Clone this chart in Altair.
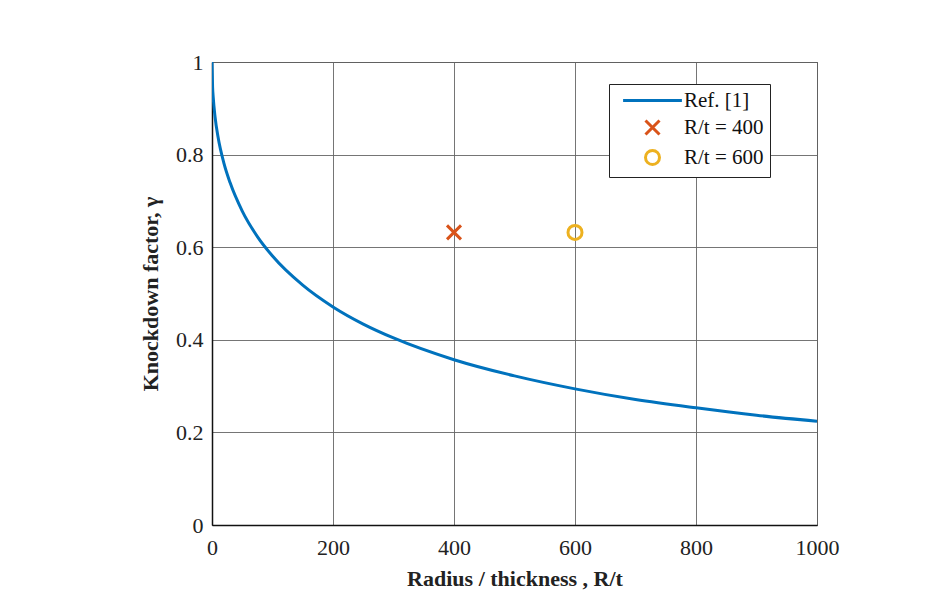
import altair as alt
import pandas as pd

# Curve (Ref. [1])
rt_values = [0, 1, 2, 5, 10, 20, 30, 50, 75, 100, 150, 200, 250, 300, 400, 500, 600, 700, 800, 900, 1000]
gamma_values = [1.0, 0.945, 0.924, 0.882, 0.838, 0.780, 0.739, 0.678, 0.623, 0.581, 0.518, 0.471,
                0.434, 0.404, 0.357, 0.322, 0.294, 0.271, 0.253, 0.237, 0.224]

# Test points
point_labels = ["R/t = 400", "R/t = 600"]
point_rt = [400, 600]
point_gamma = [0.632, 0.632]

series_names = ["Ref. [1]", "R/t = 400", "R/t = 600"]
series_colors = ["#0072BD", "#D95319", "#EDB120"]
series_shapes = ["M-4.2,0L4.2,0", "M-1,-1L1,1M-1,1L1,-1", "M-1,0A1,1,0,1,1,1,0A1,1,0,1,1,-1,0"]

curve_df = pd.DataFrame({"rt": rt_values, "gamma": gamma_values, "series": [series_names[0]] * len(rt_values)})
pts_df = pd.DataFrame({"rt": point_rt, "gamma": point_gamma, "series": point_labels})

FONT = "Liberation Serif"

x_enc = alt.X("rt:Q", scale=alt.Scale(domain=[0, 1000], nice=False),
              axis=alt.Axis(title="Radius / thickness , R/t", values=[0, 200, 400, 600, 800, 1000],
                            format="d", labelFlush=False, labelPadding=12, titlePadding=10))
y_enc = alt.Y("gamma:Q", scale=alt.Scale(domain=[0, 1], nice=False),
              axis=alt.Axis(title="Knockdown factor, γ", values=[0, 0.2, 0.4, 0.6, 0.8, 1.0],
                            format="~g", labelFlush=False, labelPadding=9, titlePadding=13))

color_scale = alt.Scale(domain=series_names, range=series_colors)
shape_scale = alt.Scale(domain=series_names, range=series_shapes)

legend = alt.Legend(title=None, orient="none", legendX=397, legendY=22,
                    fillColor="white", strokeColor="#222", padding=6,
                    labelFont=FONT, labelFontSize=21, labelColor="#111",
                    symbolSize=196, symbolStrokeWidth=3, symbolFillColor="transparent",
                    symbolOffset=27, labelOffset=21, rowPadding=3)

line = alt.Chart(curve_df).mark_line(strokeWidth=3, interpolate="monotone", clip=True).encode(
    x=x_enc, y=y_enc,
    color=alt.Color("series:N", scale=color_scale, legend=legend),
)

points = alt.Chart(pts_df).mark_point(filled=False, strokeWidth=3, size=196, opacity=1).encode(
    x=x_enc, y=y_enc,
    color=alt.Color("series:N", scale=color_scale, legend=legend),
    shape=alt.Shape("series:N", scale=shape_scale, legend=legend),
)

chart = alt.layer(line, points).properties(
    width=605, height=463,
    autosize=alt.AutoSizeParams(type="none"),
    padding={"left": 204, "top": 54, "right": 103, "bottom": 82},
    background="white",
).configure_view(
    stroke="#333", strokeWidth=1
).configure_axis(
    labelFont=FONT, labelFontSize=22, labelColor="#222",
    titleFont=FONT, titleFontSize=22, titleFontWeight="bold", titleColor="#222",
    grid=True, gridColor="#666", gridWidth=1, gridOpacity=0.9,
    domainColor="#111", domainWidth=1.5, ticks=False,
)

chart.save("out.html", embed_options={"renderer": "svg", "actions": False})
